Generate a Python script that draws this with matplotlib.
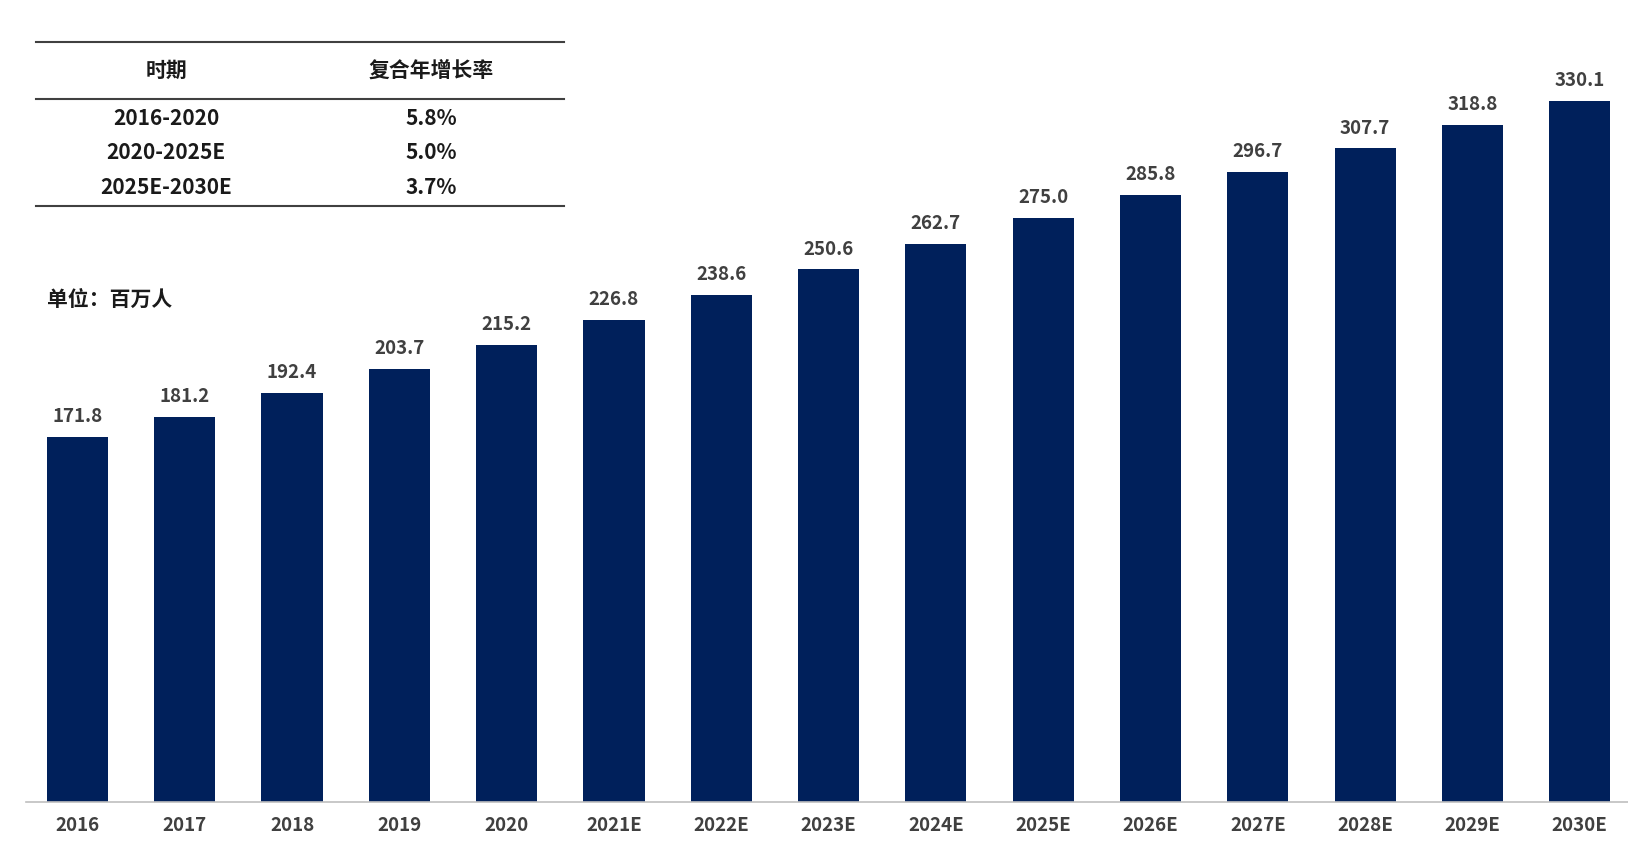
import matplotlib
matplotlib.use("Agg")
import matplotlib.pyplot as plt
from matplotlib.lines import Line2D

plt.rcParams["font.family"] = ["Noto Sans CJK SC", "DejaVu Sans"]

years = ["2016", "2017", "2018", "2019", "2020", "2021E", "2022E", "2023E",
         "2024E", "2025E", "2026E", "2027E", "2028E", "2029E", "2030E"]
values = [171.8, 181.2, 192.4, 203.7, 215.2, 226.8, 238.6, 250.6,
          262.7, 275.0, 285.8, 296.7, 307.7, 318.8, 330.1]
periods = ["2016-2020", "2020-2025E", "2025E-2030E"]
cagr = ["5.8%", "5.0%", "3.7%"]

# reference coordinate space (as measured)
W, H = 1568, 831
fig = plt.figure(figsize=(16.28, 8.63), dpi=100)
ax = fig.add_axes([25 / W, (H - 772) / H, (1568 - 25) / W, 752 / H])

x = range(len(years))
ax.bar(x, values, width=0.57, color="#00205B", zorder=2)
for xi, v in zip(x, values):
    ax.text(xi, v + 5, f"{v:.1f}", ha="center", va="bottom", fontsize=13.5,
            fontweight="bold", color="#404040")
ax.set_xlim(-0.48, 14.45)
ax.set_ylim(0, 367.7)
ax.set_xticks(list(x))
ax.set_xticklabels(years, fontsize=13.5, fontweight="bold", color="#404040")
ax.tick_params(axis="x", length=0, pad=10)
ax.set_yticks([])
for s in ["top", "left", "right"]:
    ax.spines[s].set_visible(False)
ax.spines["bottom"].set_color("#BFBFBF")
ax.spines["bottom"].set_linewidth(1.2)

def fy(py):
    return 1 - py / H

for py in (40, 95, 198):
    fig.add_artist(Line2D([35 / W, 543 / W], [fy(py), fy(py)], color="#404040", lw=1.5))
fig.text(160 / W, fy(68), "时期", ha="center", va="center", fontsize=15, fontweight="bold", color="#1a1a1a")
fig.text(415 / W, fy(68), "复合年增长率", ha="center", va="center", fontsize=15, fontweight="bold", color="#1a1a1a")
for i, (p, c) in enumerate(zip(periods, cagr)):
    yy = [114, 147, 181][i]
    fig.text(160 / W, fy(yy), p, ha="center", va="center", fontsize=15, fontweight="bold", color="#1a1a1a")
    fig.text(415 / W, fy(yy), c, ha="center", va="center", fontsize=15, fontweight="bold", color="#1a1a1a")
fig.text(45 / W, fy(288), "单位：百万人", ha="left", va="center", fontsize=15, fontweight="bold", color="#1a1a1a")

fig.savefig("out.png", dpi=100, facecolor="white")
